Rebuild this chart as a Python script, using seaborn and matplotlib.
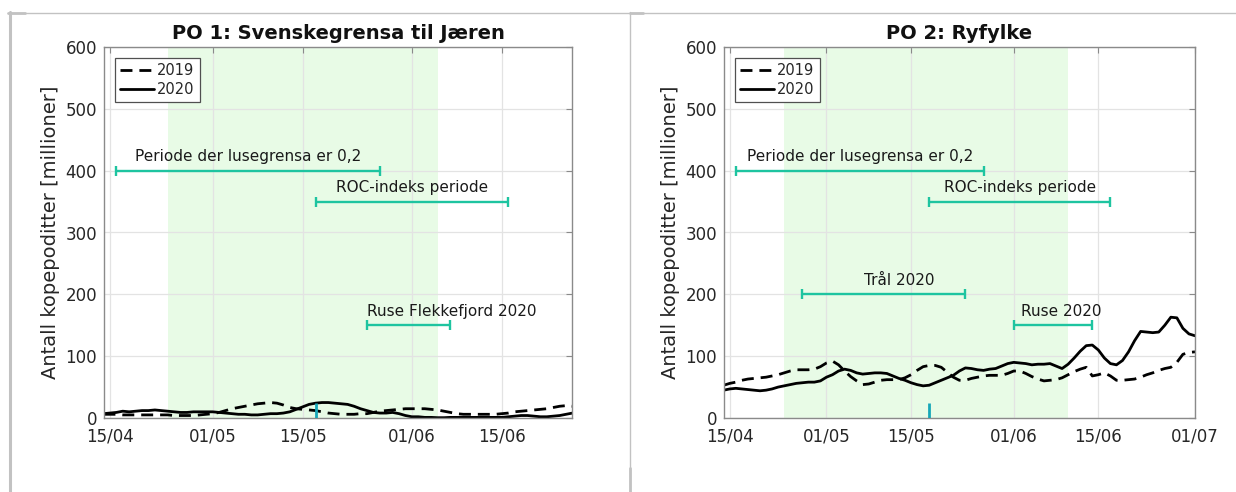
import pandas as pd
import matplotlib
matplotlib.use("Agg")
import matplotlib.pyplot as plt
import matplotlib.dates as mdates
from matplotlib.lines import Line2D
import seaborn as sns

sns.set_style("white")
plt.rcParams["font.family"] = ["DejaVu Sans"]

# Daily number of copepodids (millions), first value is 14 April
SERIES_START = "2020-04-14"

po1_2019 = [6, 6, 6, 5, 5, 5, 5, 5, 5, 5,
            5, 4, 4, 4, 4, 5, 6, 7, 9, 12,
            15, 17, 19, 21, 23, 24, 25, 24, 21, 17,
            15, 14, 13, 12, 10, 8, 7, 6, 6, 6,
            7, 7, 9, 11, 12, 13, 14, 15, 15, 15,
            15, 14, 13, 11, 9, 7, 6, 6, 6, 6,
            6, 6, 7, 8, 10, 11, 12, 13, 14, 15,
            17, 19, 20, 19]
po1_2020 = [7, 8, 9, 11, 10, 11, 12, 12, 13, 12,
            11, 10, 9, 9, 10, 10, 10, 10, 9, 8,
            7, 6, 6, 5, 5, 6, 7, 7, 8, 10,
            14, 18, 22, 24, 25, 25, 24, 23, 22, 19,
            15, 12, 9, 8, 8, 9, 7, 4, 2, 2,
            1, 1, 0.5, 0.5, 1, 1, 1, 1, 1, 1,
            1, 1, 1, 2, 3, 4, 4, 3, 2, 2,
            3, 4, 6, 8]

po2_2019 = [53, 56, 58, 61, 63, 64, 65, 66, 68, 70,
            73, 76, 78, 78, 78, 79, 83, 89, 92, 86,
            76, 67, 60, 54, 55, 58, 61, 62, 62, 62,
            65, 70, 77, 83, 85, 85, 82, 74, 66, 61,
            61, 64, 66, 68, 69, 69, 69, 72, 76, 76,
            72, 67, 63, 60, 61, 62, 65, 70, 75, 79,
            82, 68, 70, 73, 68, 61, 61, 62, 63, 66,
            70, 73, 77, 80, 82, 90, 103, 106, 107]
po2_2020 = [45, 47, 48, 47, 46, 45, 44, 45, 47, 50,
            52, 54, 56, 57, 58, 58, 60, 66, 70, 76,
            79, 77, 73, 71, 72, 73, 73, 72, 68, 64,
            61, 57, 54, 52, 53, 57, 61, 65, 69, 76,
            81, 80, 78, 77, 79, 80, 84, 88, 90, 89,
            88, 86, 87, 87, 88, 84, 80, 87, 97, 108,
            117, 118, 110, 97, 88, 86, 93, 107, 125, 140,
            139, 138, 139, 150, 163, 162, 145, 136, 133]

years = ["2019", "2020"]
titles = ["PO 1: Svenskegrensa til Jæren", "PO 2: Ryfylke"]

# Marked periods: label, first day, last day, level
po1_periods_label = ["Periode der lusegrensa er 0,2", "ROC-indeks periode", "Ruse Flekkefjord 2020"]
po1_periods_start = ["2020-04-16", "2020-05-17", "2020-05-25"]
po1_periods_end = ["2020-05-27", "2020-06-16", "2020-06-07"]
po1_periods_level = [400, 350, 150]

po2_periods_label = ["Periode der lusegrensa er 0,2", "ROC-indeks periode", "Trål 2020", "Ruse 2020"]
po2_periods_start = ["2020-04-16", "2020-05-18", "2020-04-27", "2020-06-01"]
po2_periods_end = ["2020-05-27", "2020-06-17", "2020-05-24", "2020-06-14"]
po2_periods_level = [400, 350, 200, 150]

# Shaded season and the ROC start marker
po1_season = ["2020-04-24", "2020-06-05"]
po2_season = ["2020-04-24", "2020-06-10"]
po1_marker = ["2020-05-17", 25]
po2_marker = ["2020-05-18", 25]

po1_xlim = ["2020-04-14 02:00", "2020-06-25 22:00"]
po2_xlim = ["2020-04-14 01:00", "2020-07-01 00:00"]
po1_ticks = ["2020-04-15", "2020-05-01", "2020-05-15", "2020-06-01", "2020-06-15"]
po2_ticks = ["2020-04-15", "2020-05-01", "2020-05-15", "2020-06-01", "2020-06-15", "2020-07-01"]
y_ticks = [0, 100, 200, 300, 400, 500, 600]


def long_frame(v2019, v2020):
    parts = []
    for yr, vals in zip(years, [v2019, v2020]):
        parts.append(pd.DataFrame({
            "dato": pd.date_range(SERIES_START, periods=len(vals), freq="D"),
            "antall": vals,
            "år": yr,
        }))
    return pd.concat(parts, ignore_index=True)


TEAL = "#1ec4a0"
TICK_TEAL = "#17a7b8"
AX_GREY = "#8a8a8a"

fig = plt.figure(figsize=(12.36, 4.92), dpi=100)
ax1 = fig.add_axes([104 / 1236, 74 / 492, 468 / 1236, 371 / 492])
ax2 = fig.add_axes([724 / 1236, 74 / 492, 471 / 1236, 371 / 492])

panels = [
    (ax1, long_frame(po1_2019, po1_2020), po1_season, po1_marker, po1_xlim, po1_ticks,
     list(zip(po1_periods_label, po1_periods_start, po1_periods_end, po1_periods_level))),
    (ax2, long_frame(po2_2019, po2_2020), po2_season, po2_marker, po2_xlim, po2_ticks,
     list(zip(po2_periods_label, po2_periods_start, po2_periods_end, po2_periods_level))),
]

# label placement relative to each bar: (alignment, shift in days)
label_place = {
    "Ruse Flekkefjord 2020": ("left", 0.0),
    "Trål 2020": ("center", 2.5),
    "Ruse 2020": ("center", 1.3),
}

for i, (ax, df, season, marker, xlim, ticks, periods) in enumerate(panels):
    ax.set_axisbelow(True)
    ax.axvspan(pd.Timestamp(season[0]), pd.Timestamp(season[1]),
               color="#e8fbe6", zorder=0, lw=0)

    sns.lineplot(data=df, x="dato", y="antall", style="år", style_order=years,
                 dashes={"2019": (4.3, 2.5), "2020": ""}, color="black",
                 lw=2, ax=ax, legend=True)

    for label, s, e, lvl in periods:
        s, e = pd.Timestamp(s), pd.Timestamp(e)
        ax.plot([s, e], [lvl, lvl], color=TEAL, lw=1.7, marker="|", ms=7,
                mew=1.7, solid_capstyle="butt", zorder=4)
        ha, shift = label_place.get(label, ("center", 0.0))
        if ha == "left":
            tx = s
        else:
            tx = s + (e - s) / 2 + pd.Timedelta(days=shift)
        ax.annotate(label, xy=(tx, lvl), xytext=(0, 4.5), textcoords="offset points",
                    ha=ha, va="bottom", fontsize=11, color="#1a1a1a")

    md = pd.Timestamp(marker[0])
    ax.plot([md, md], [0, marker[1]], color=TICK_TEAL, lw=2, zorder=5,
            solid_capstyle="butt")

    ax.set_xlim(pd.Timestamp(xlim[0]), pd.Timestamp(xlim[1]))
    ax.set_ylim(0, 600)
    ax.set_xticks([pd.Timestamp(t) for t in ticks])
    ax.xaxis.set_major_formatter(mdates.DateFormatter("%d/%m"))
    ax.set_yticks(y_ticks)
    ax.grid(True, color="#e3e3e3", lw=0.9)
    ax.tick_params(direction="in", length=4, width=0.8, color=AX_GREY,
                   top=True, right=True, labelsize=12, labelcolor="#262626")
    ax.tick_params(axis="x", pad=7)
    ax.tick_params(axis="y", pad=5)
    for sp in ax.spines.values():
        sp.set_color(AX_GREY)
        sp.set_linewidth(1)
        sp.set_visible(True)

    ax.set_xlabel("")
    ax.set_ylabel("Antall kopepoditter [millioner]", fontsize=14, color="#262626", labelpad=4)
    ax.set_title(titles[i], fontsize=14, fontweight="bold", pad=6, color="#111111")

    handles, labels = ax.get_legend_handles_labels()
    keep = [(h, l) for h, l in zip(handles, labels) if l in years]
    leg = ax.legend([h for h, _ in keep], [l for _, l in keep], loc="upper left",
                    bbox_to_anchor=(0.0, 1.0), borderaxespad=0.75, fontsize=10.5,
                    frameon=True, fancybox=False, framealpha=1, edgecolor="#505050",
                    handlelength=2.3, handletextpad=0.25, borderpad=0.35,
                    labelspacing=0.25)
    leg.get_frame().set_linewidth(0.9)

# panel frames
FRAME = "#c2c2c2"
def fline(x0, y0, x1, y1, lw):
    fig.add_artist(Line2D([x0 / 1236, x1 / 1236], [1 - y0 / 492, 1 - y1 / 492],
                          transform=fig.transFigure, color=FRAME, lw=lw))

fline(8, 12.5, 1236, 12.5, 1.0)
fline(9.5, 12, 9.5, 492, 2.2)
fline(8, 13, 25, 13, 2.0)
fline(630, 12, 630, 492, 1.0)
fline(630, 13, 643, 13, 2.0)
fline(630, 468, 630, 492, 2.0)

fig.savefig("out.png", dpi=100)
